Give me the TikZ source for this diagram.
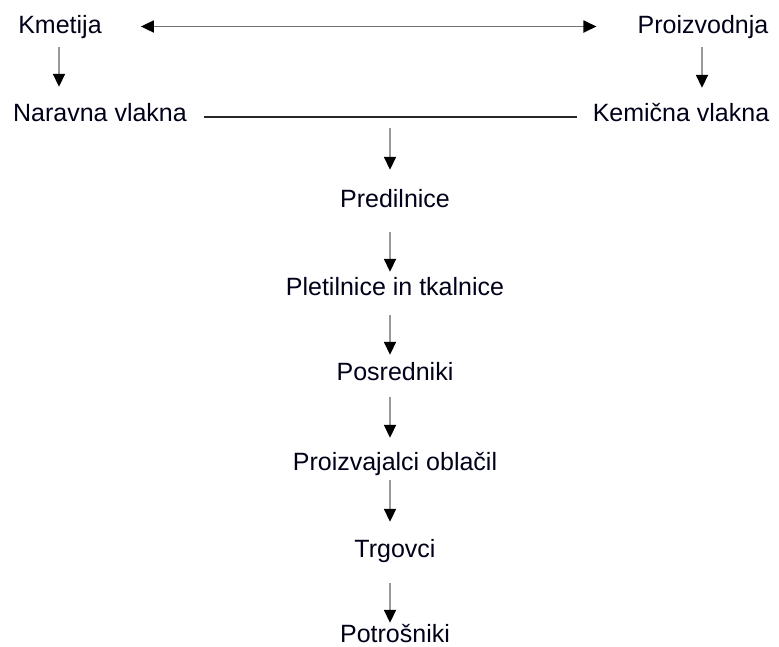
\documentclass[tikz,border=0pt]{standalone}
\usepackage{fontspec}
\setmainfont{Liberation Sans}
\usetikzlibrary{arrows.meta}
\begin{document}
\begin{tikzpicture}[x=1pt,y=-1pt,
  lbl/.style={anchor=base,inner sep=0pt,text height=18pt,text depth=5pt,font=\fontsize{25}{28}\selectfont,text=black!90!blue},
  arr/.style={draw=black!40,line width=1.8pt,-{Triangle[length=13pt,width=12pt,color=black]}},
  dbl/.style={draw=black!55,line width=1.8pt,{Triangle[length=13pt,width=12pt,color=black]}-{Triangle[length=13pt,width=12pt,color=black]}},
  hline/.style={draw=black!85,line width=1.6pt}]
\useasboundingbox (0,0) rectangle (779,646);
\node[lbl] (kmet) at (60,33) {Kmetija};
\node[lbl] (proizv) at (703,33) {Proizvodnja};
\node[lbl] (narav) at (100,121) {Naravna vlakna};
\node[lbl] (kemic) at (681,121) {Kemična vlakna};
\node[lbl] (pred) at (395,207) {Predilnice};
\node[lbl] (plet) at (395,295) {Pletilnice in tkalnice};
\node[lbl] (posr) at (395,380) {Posredniki};
\node[lbl] (proiz) at (395,470) {Proizvajalci oblačil};
\node[lbl] (trg) at (395,557) {Trgovci};
\node[lbl,text depth=0pt] (potr) at (395,642) {Potrošniki};
% top double arrow
\draw[dbl,shorten <=39pt,shorten >=41pt] (kmet.east) -- (proizv.west);
% side arrows
\draw[arr,shorten <=9pt,shorten >=16pt] ([xshift=-1pt]kmet.south) -- ([xshift=-1pt]kmet.south |- narav.north);
\draw[arr,shorten <=9pt,shorten >=15pt] ([xshift=-1pt]proizv.south) -- ([xshift=-1pt]proizv.south |- kemic.north);
% horizontal line
\draw[hline,shorten <=17pt,shorten >=16pt] ([yshift=-2.5pt]narav.east) -- ([yshift=-2.5pt]kemic.west);
\coordinate (junc) at ([xshift=-5pt,yshift=-2.5pt]narav.east -| pred.north);
% central chain
\draw[arr,shorten <=11pt,shorten >=19pt] (junc) -- ([xshift=-5pt]pred.north);
\draw[arr,shorten <=20pt,shorten >=5pt] ([xshift=-5pt]pred.south) -- ([xshift=-5pt]plet.north);
\draw[arr,shorten <=15pt,shorten >=7pt] ([xshift=-5pt]plet.south) -- ([xshift=-5pt]posr.north);
\draw[arr,shorten <=12pt,shorten >=14pt] ([xshift=-5pt]posr.south) -- ([xshift=-5pt]proiz.north);
\draw[arr,shorten <=5pt,shorten >=17pt] ([xshift=-5pt]proiz.south) -- ([xshift=-5pt]trg.north);
\draw[arr,shorten <=21pt,shorten >=1pt] ([xshift=-5pt]trg.south) -- ([xshift=-5pt]potr.north);
\end{tikzpicture}
\end{document}
